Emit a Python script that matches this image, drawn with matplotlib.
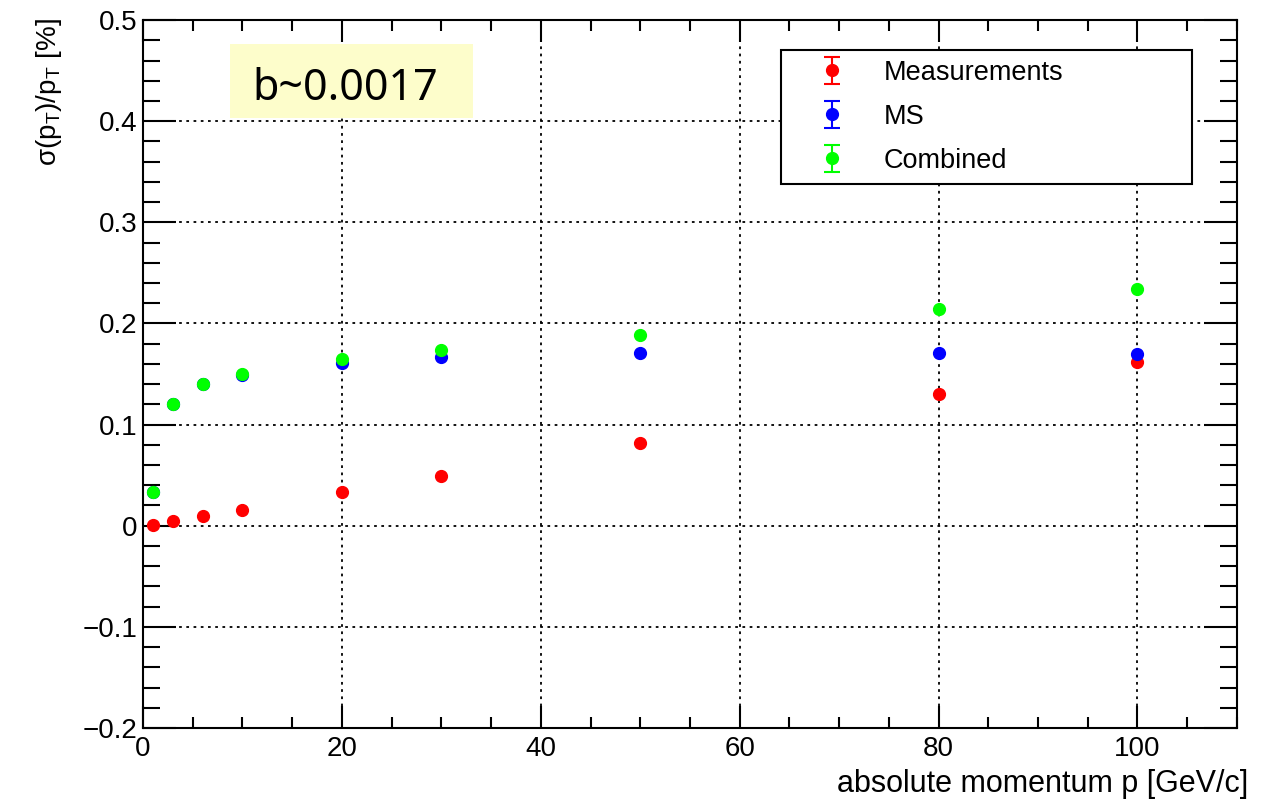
import numpy as np
import matplotlib
matplotlib.use('Agg')
import matplotlib.pyplot as plt
from matplotlib.ticker import MultipleLocator
from matplotlib.patches import Rectangle

plt.rcParams['font.family'] = ['Liberation Sans', 'DejaVu Sans']
plt.rcParams['mathtext.fontset'] = 'custom'
plt.rcParams['mathtext.rm'] = 'Liberation Sans'
plt.rcParams['mathtext.it'] = 'Liberation Sans'
plt.rcParams['mathtext.default'] = 'regular'

# momentum points [GeV/c]
p = [1, 3, 6, 10, 20, 30, 50, 80, 100]
# relative resolution [%]
meas = [0.001, 0.005, 0.010, 0.016, 0.033, 0.049, 0.082, 0.130, 0.162]
ms = [0.033, 0.120, 0.140, 0.149, 0.161, 0.167, 0.171, 0.171, 0.170]
comb = [0.033, 0.120, 0.140, 0.150, 0.165, 0.174, 0.189, 0.214, 0.234]
err0 = [0.0] * len(p)

series = [("Measurements", meas, '#ff0000'),
          ("MS", ms, '#0000ff'),
          ("Combined", comb, '#00ff00')]

fig = plt.figure(figsize=(12.66, 8.02), dpi=100)
ax = fig.add_axes([0.113, 0.0923, 0.977 - 0.113, 0.975 - 0.0923])

for name, vals, col in series:
    cont = ax.errorbar(p, vals, yerr=err0, fmt='o', color=col, ms=8.5,
                       capsize=5.5, elinewidth=1.5, capthick=1.5, label=name, zorder=3)
    # errors are negligible: keep the caps only for the legend entry
    for cl in cont[1]:
        cl.set_data([], [])

ax.set_xlim(0, 110)
ax.set_ylim(-0.2, 0.5)
ax.xaxis.set_major_locator(MultipleLocator(20))
ax.xaxis.set_minor_locator(MultipleLocator(5))
ax.yaxis.set_minor_locator(MultipleLocator(0.02))
ax.set_yticks(np.arange(-0.2, 0.51, 0.1))
ax.set_yticklabels(['\u22120.2', '\u22120.1', '0', '0.1', '0.2', '0.3', '0.4', '0.5'])

for s in ax.spines.values():
    s.set_linewidth(1.5)

ax.tick_params(which='both', direction='in', top=True, right=True, width=1.5,
               labelsize=20, colors='black')
ax.tick_params(axis='y', which='major', length=23.5, pad=4)
ax.tick_params(axis='y', which='minor', length=12)
ax.tick_params(axis='x', which='major', length=15.8, pad=6)
ax.tick_params(axis='x', which='minor', length=8)

ax.grid(True, which='major', color='black', linestyle=(0, (1.5, 2.5)), linewidth=1.3)

ax.set_xlabel('absolute momentum p [GeV/c]', fontsize=22, ha='right')
ax.xaxis.set_label_coords(1.01, -0.058)
ax.set_ylabel(r'$\sigma(p_{T})/p_{T}$ [%]', fontsize=20, ha='right')
ax.yaxis.set_label_coords(-0.072, 1.003)

ax.add_patch(Rectangle((0.0795, 0.8616), 0.2221, 0.1044, transform=ax.transAxes,
                       facecolor='#fdfdcb', edgecolor='none', zorder=4))
ax.text(0.0996, 0.887, 'b~0.0017', transform=ax.transAxes, fontsize=31,
        family=['Noto Sans', 'DejaVu Sans'], va='baseline', ha='left', zorder=5)

leg = ax.legend(loc='upper left', bbox_to_anchor=(0.583, 0.768, 0.3757, 0.19),
                mode='expand', fontsize=19.5,
                frameon=True, fancybox=False, edgecolor='black', framealpha=1,
                borderaxespad=0, borderpad=0.37, labelspacing=0.66,
                handlelength=3.03, handletextpad=0.41)
leg.get_frame().set_linewidth(1.5)

fig.savefig('out.png', dpi=100)
